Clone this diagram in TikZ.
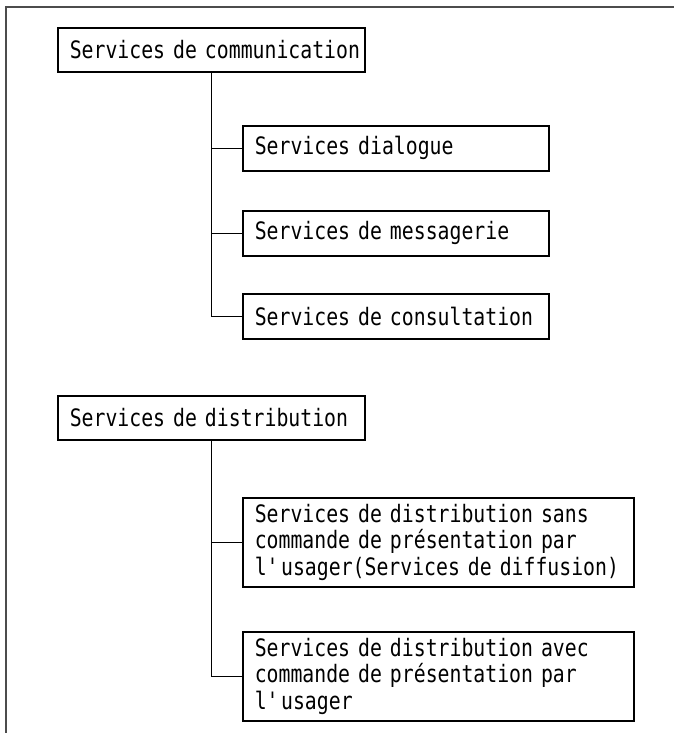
\documentclass[tikz,border=0pt]{standalone}
\usepackage{fontspec}
\newfontfamily\typewr[FakeStretch=0.825]{DejaVu Sans Mono}
\tikzset{
  svcbox/.style={draw, line width=1.6bp, anchor=north west, inner xsep=12bp, inner ysep=0pt,
    align=left, font=\typewr\fontsize{24bp}{26.5bp}\selectfont},
  headbox/.style={svcbox, text width=283bp, minimum height=44bp},
  subbox/.style={svcbox, text width=282bp, minimum height=45bp},
  widebox/.style={svcbox, text width=367bp, minimum height=89bp},
  branch/.style={line width=1.6bp}
}
\begin{document}
\begin{tikzpicture}[x=1bp,y=-1bp]
\useasboundingbox (0,0) rectangle (674,733);

%frame
\draw [line width=1.5bp, black!70] (674,7) -- (6,7) -- (6,733);

%communication
\node [headbox] (comm) at (57,27) {\mbox{Services de communication}};
\node [subbox] (dial) at (242,125) {Services dialogue};
\node [subbox] (mess) at (242,210) {Services de messagerie};
\node [subbox] (cons) at (242,293) {Services de consultation};

\draw [branch] (comm.south) |- (dial.west);
\draw [branch] (comm.south) |- (mess.west);
\draw [branch] (comm.south) |- (cons.west);

%distribution
\node [headbox] (dist) at (57,395) {Services de distribution};
\node [widebox] (sans) at (242,497) {Services de distribution sans\\
  commande de présentation par\\
  l\textquotesingle usager(Services de diffusion)};
\node [widebox] (avec) at (242,631) {Services de distribution avec\\
  commande de présentation par\\
  l\textquotesingle usager};

\draw [branch] (dist.south) |- (sans.west);
\draw [branch] (dist.south) |- (avec.west);
\end{tikzpicture}
\end{document}
